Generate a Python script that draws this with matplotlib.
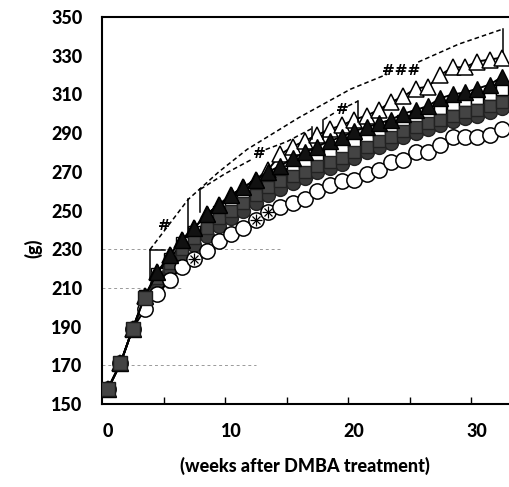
import matplotlib
matplotlib.use("Agg")
import matplotlib.pyplot as plt
import numpy as np

plt.rcParams['font.family'] = ['Lato', 'DejaVu Sans']

weeks = list(range(33))

open_circles = [158, 171, 189, 199, 207, 214, 221, 225, 229, 234, 238, 241, 245, 249, 252, 254, 256,
                260, 263, 265, 266, 269, 271, 275, 276, 280, 280, 284, 288, 288, 288, 289, 292]
gray_circles = [158, 171, 189, 203, 212, 220, 227, 232, 237, 242, 246, 250, 254, 258, 261, 264, 267,
                270, 272, 274, 277, 280, 283, 285, 288, 290, 292, 294, 296, 298, 299, 301, 303]
gray_squares = [158, 171, 189, 205, 215, 223, 230, 236, 241, 246, 250, 254, 258, 262, 265, 268, 270,
                273, 275, 277, 280, 283, 286, 288, 291, 293, 295, 297, 299, 301, 302, 304, 306]
open_squares = [158, 171, 189, 206, 217, 225, 233, 239, 244, 249, 253, 257, 262, 266, 269, 272, 275,
                278, 280, 283, 286, 288, 291, 293, 296, 298, 300, 303, 305, 307, 308, 310, 313]
black_triangles = [158, 171, 189, 206, 218, 227, 235, 241, 248, 253, 258, 262, 266, 270, 273, 277, 280,
                   283, 286, 288, 291, 293, 295, 297, 300, 302, 304, 308, 310, 311, 313, 315, 319]
open_triangles = [158, 171, 189, 206, 218, 227, 235, 241, 248, 253, 258, 262, 266, 271, 279, 283, 286,
                  289, 292, 294, 297, 299, 302, 306, 309, 313, 314, 320, 324, 324, 327, 328, 329]
marked_weeks = [7, 12, 13]

y_ticks = list(range(150, 351, 20))
x_tick_labels = [0, 10, 20, 30]

fig = plt.figure(figsize=(5.09, 4.87), dpi=100)
ax = fig.add_axes([102/509, 83/487, (508-102)/509, (404-17)/487])
ax.set_xlim(-0.5, 32.5)
ax.set_ylim(150, 350)

# faint gridline remnants
for gy, x1 in [(170, 12.0), (210, 6.0), (230, 14.0)]:
    ax.plot([-0.5, x1], [gy, gy], color='#9a9a9a', lw=0.7, ls=(0, (3, 3)), zorder=1)

gray_fill = '#3a3a3a'
ax.plot(weeks, open_squares, '-', color='black', lw=1.4, marker='s', ms=9,
        mfc='white', mec='black', mew=1.0, zorder=3)
ax.plot(weeks, gray_circles, '-', color='#2a2a2a', lw=1.4, marker='o', ms=10,
        mfc=gray_fill, mec='#222222', mew=1.0, zorder=4)
ax.plot(weeks, gray_squares, '-', color='#2a2a2a', lw=1.4, marker='s', ms=9,
        mfc='#444444', mec='#222222', mew=1.0, zorder=5)
ax.plot(weeks, open_circles, '-', color='black', lw=1.4, marker='o', ms=11,
        mfc='white', mec='black', mew=1.1, zorder=6)
mx = [w for w in marked_weeks]
my = [open_circles[w] for w in marked_weeks]
ax.plot(mx, my, ls='none', marker='+', ms=9, mec='black', mew=0.9, zorder=7)
ax.plot(mx, my, ls='none', marker='x', ms=6, mec='black', mew=0.9, zorder=7)
ax.plot(weeks, open_triangles, '-', color='black', lw=1.4, marker='^', ms=12,
        mfc='white', mec='black', mew=1.1, zorder=8)
ax.plot(weeks, black_triangles, '-', color='black', lw=1.4, marker='^', ms=11,
        mfc='#111111', mec='black', mew=1.0, zorder=9)
# early gray squares lie on top of the converged markers
ax.plot(weeks, gray_squares, ls='none', marker='s', ms=10, markevery=[0, 1, 2, 3],
        mfc='#444444', mec='#1a1a1a', mew=1.0, zorder=9.5)

# significance brackets
dash = (0, (3, 2))
kw = dict(color='black', lw=1.1, zorder=10)
ax.plot([3.4, 3.4], [214.5, 229.8], **kw)
ax.plot([3.4, 4.6], [229.8, 229.8], **kw)
ax.plot([3.4, 6.5, 9.0, 11.3, 15.5, 19.7, 22.7], [229.8, 255.7, 270, 281.6, 298, 312.7, 320.5], ls=dash, **kw)
ax.plot([25.2, 28.5, 32.1], [326.7, 336, 343.8], ls=dash, **kw)
ax.plot([32.1, 32.1], [331.9, 343.8], **kw)
ax.plot([6.5, 6.5], [239, 255.7], **kw)
ax.plot([7.5, 7.5], [249, 261], **kw)
ax.plot([7.5, 9.5, 11.7], [261, 269, 276.5], ls=dash, **kw)
ax.plot([12.8, 14.5, 16.6], [281.5, 285.5, 292.5], ls=dash, **kw)
ax.plot([16.6, 16.6], [287, 293], **kw)
ax.plot([17.5, 17.5], [287, 297], **kw)
ax.plot([17.5, 18.4], [297, 300.5], ls=dash, **kw)
ax.plot([19.5, 20.3], [304, 306.5], ls=dash, **kw)
ax.plot([20.3, 20.3], [295.6, 306.5], **kw)
tkw = dict(ha='center', va='center', fontsize=11, fontweight='bold', color='black', zorder=11,
           family='DejaVu Serif')
ax.text(4.6, 242, '#', **tkw)
ax.text(12.3, 279, '#', **tkw)
ax.text(19.0, 302, '#', **tkw)
ax.text(23.8, 322, '###', **tkw)

# axes styling
for s in ['left', 'bottom', 'top']:
    ax.spines[s].set_linewidth(1.5)
    ax.spines[s].set_color('black')
ax.spines['right'].set_visible(False)

ax.set_yticks(y_ticks)
ax.set_yticklabels([str(v) for v in y_ticks])
ax.set_xticks(x_tick_labels)
ax.set_xticklabels([str(v) for v in x_tick_labels])
ax.set_xticks([4.5, 9.5, 14.5, 19.5, 24.5, 29.5], minor=True)
ax.tick_params(axis='x', which='major', length=0, pad=14, labelsize=13)
ax.tick_params(axis='x', which='minor', length=5, direction='in', width=1.0)
ax.tick_params(axis='y', which='both', length=0, pad=14, labelsize=13)
for lab in ax.get_xticklabels() + ax.get_yticklabels():
    lab.set_fontweight('black')

fig.text(33/509, 1 - 248/487, '(g)', rotation=90, ha='center', va='center',
         fontsize=13, fontweight='black')
fig.text(305/509, 1 - 466/487, '(weeks after DMBA treatment)', ha='center', va='center',
         fontsize=13, fontweight='black')

fig.savefig('out.png', dpi=100)
